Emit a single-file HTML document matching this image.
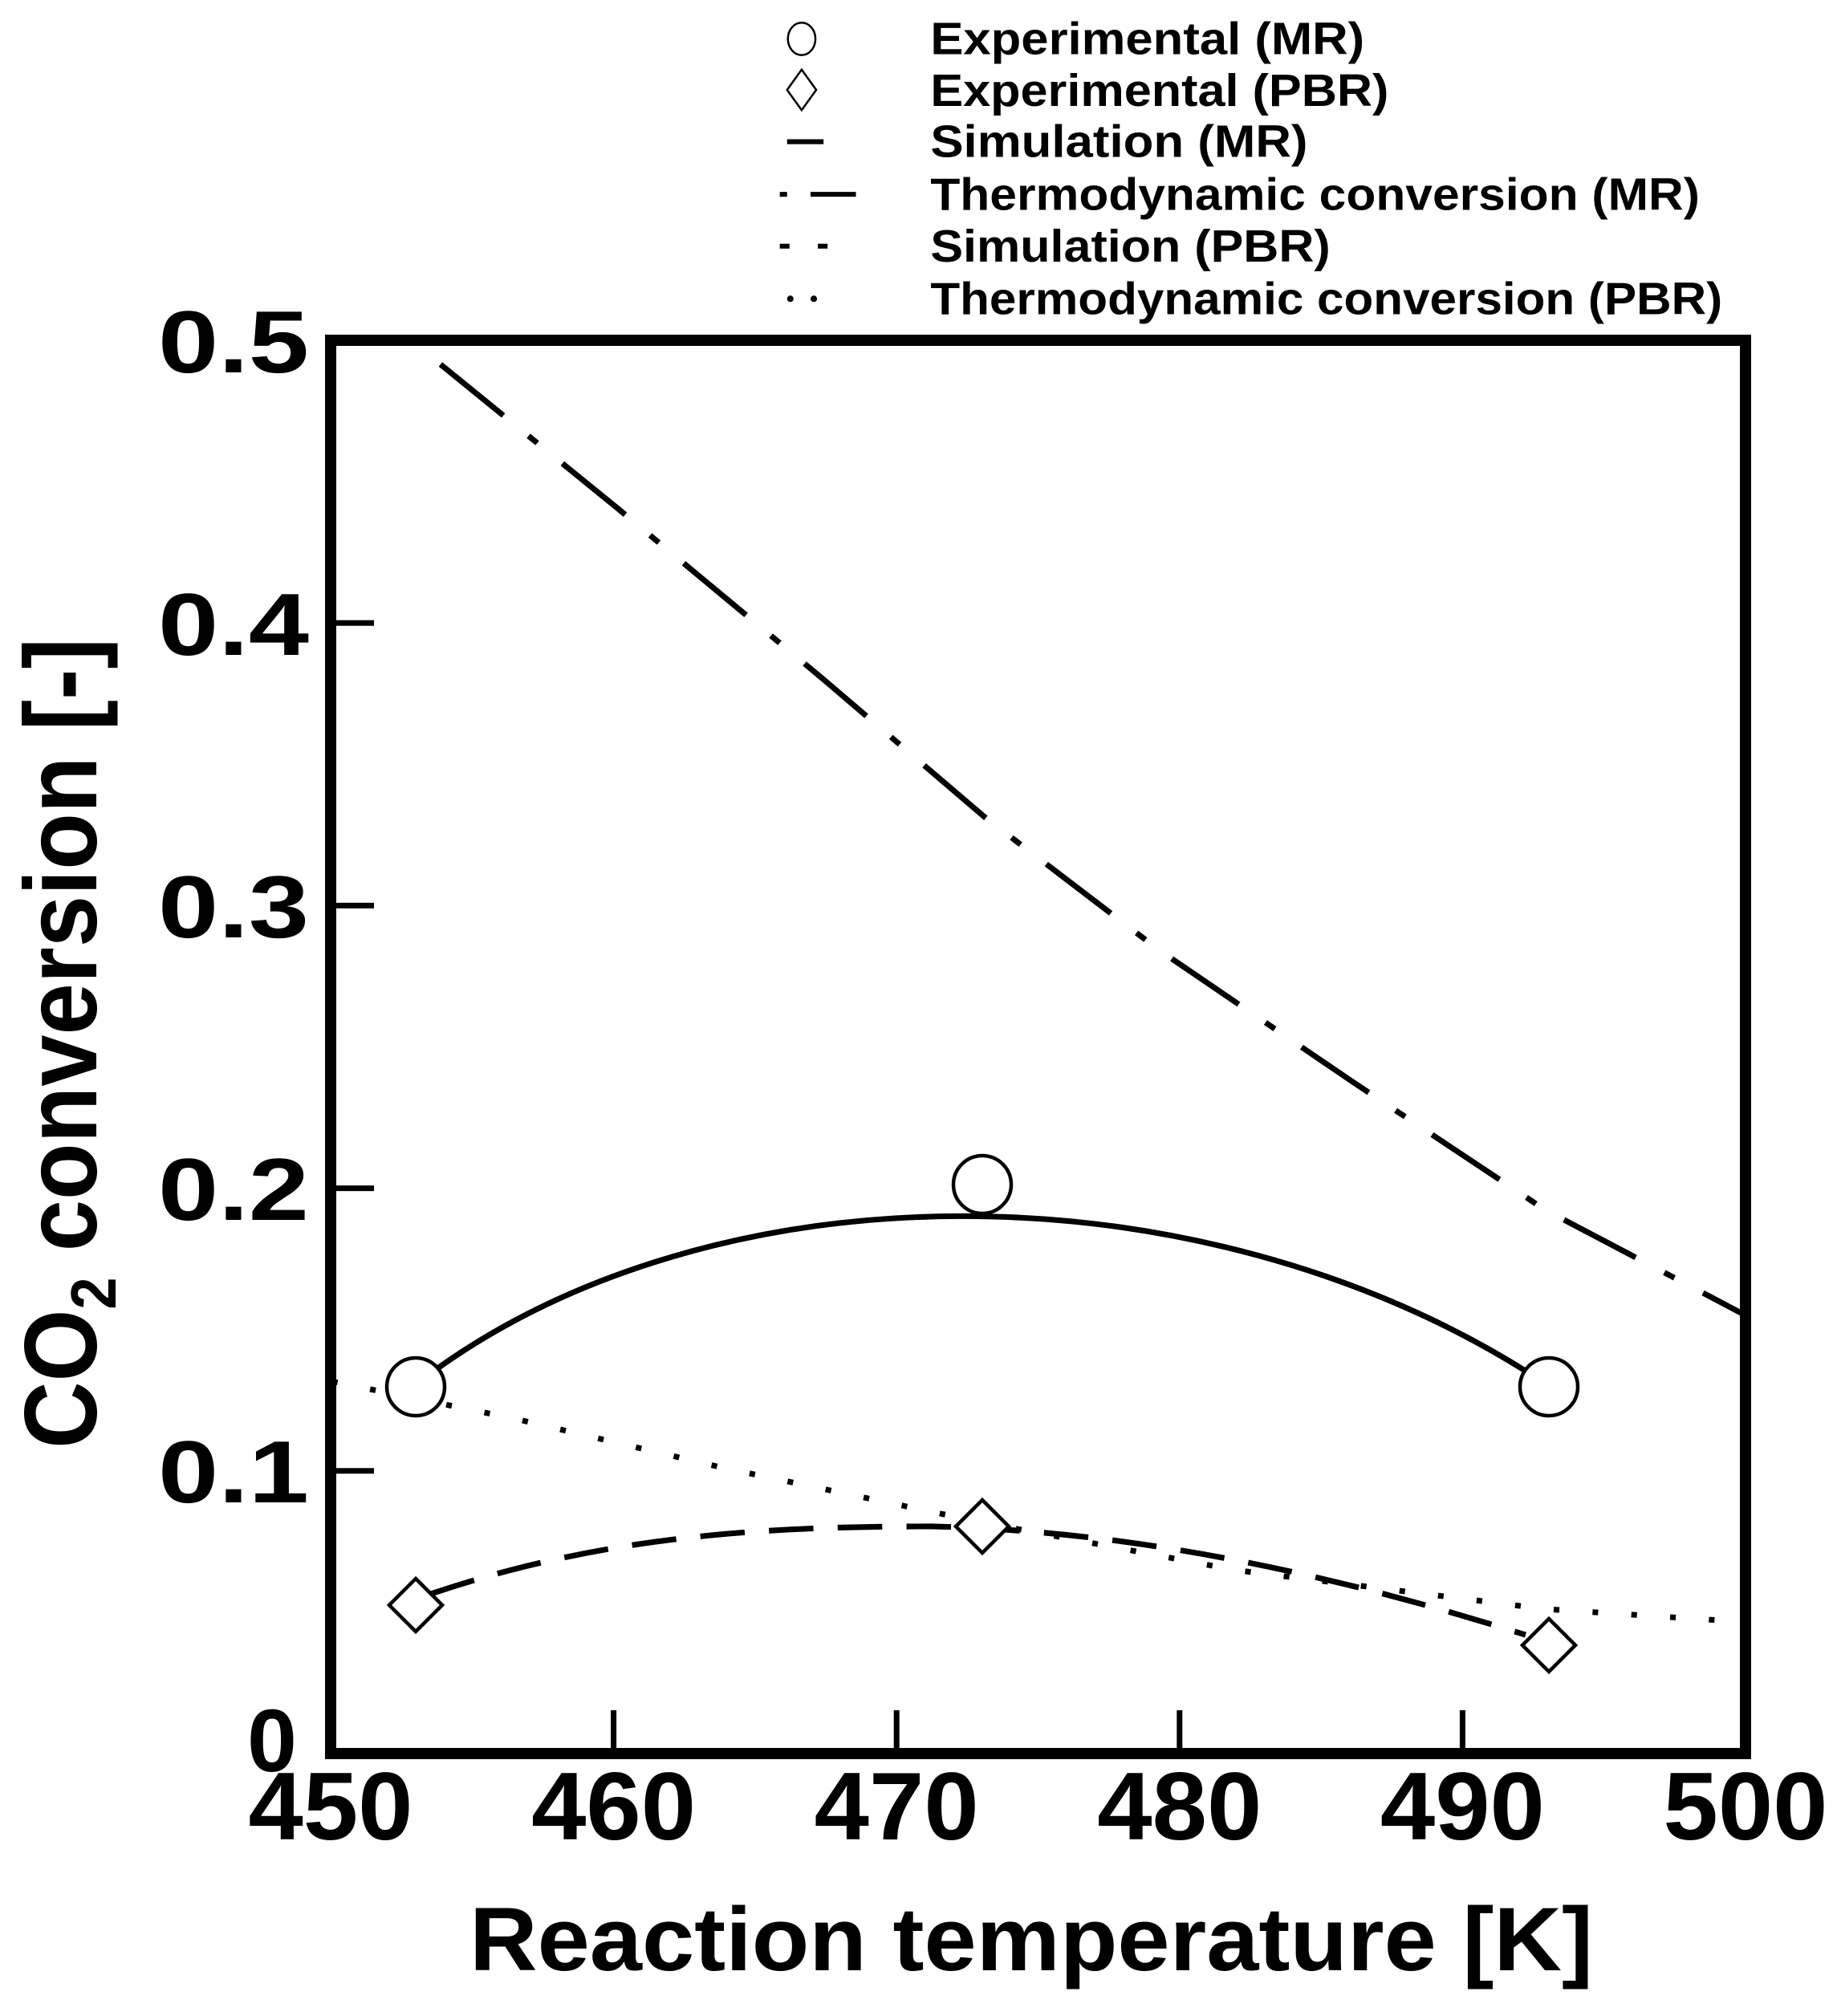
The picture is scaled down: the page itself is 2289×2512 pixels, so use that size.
<!DOCTYPE html>
<html><head><meta charset="utf-8"><style>html,body{margin:0;padding:0;background:#fff}svg{display:block}</style></head>
<body>
<svg width="2289" height="2512" viewBox="0 0 2289 2512" xmlns="http://www.w3.org/2000/svg" font-family="'Liberation Sans', 'DejaVu Sans', sans-serif">
<rect width="2289" height="2512" fill="#fff"/>
<g transform="scale(1.009)">
<!-- legend -->
<g font-size="56" font-weight="bold" fill="#000">
<text x="1149" y="67" textLength="536" lengthAdjust="spacingAndGlyphs">Experimental (MR)</text>
<text x="1149" y="131" textLength="566" lengthAdjust="spacingAndGlyphs">Experimental (PBR)</text>
<text x="1149" y="194" textLength="466" lengthAdjust="spacingAndGlyphs">Simulation (MR)</text>
<text x="1149" y="259" textLength="950" lengthAdjust="spacingAndGlyphs">Thermodynamic conversion (MR)</text>
<text x="1149" y="323" textLength="494" lengthAdjust="spacingAndGlyphs">Simulation (PBR)</text>
<text x="1149" y="388" textLength="978" lengthAdjust="spacingAndGlyphs">Thermodynamic conversion (PBR)</text>
</g>
<ellipse cx="990" cy="48" rx="17" ry="20" fill="none" stroke="#000" stroke-width="2.5"/>
<polygon points="990,86 1008,111 990,136 972,111" fill="none" stroke="#000" stroke-width="2.5"/>
<line x1="972" y1="175" x2="1017" y2="175" stroke="#000" stroke-width="6"/>
<line x1="963" y1="240" x2="972" y2="240" stroke="#000" stroke-width="6"/>
<line x1="1001" y1="240" x2="1057" y2="240" stroke="#000" stroke-width="6"/>
<line x1="963" y1="304" x2="975" y2="304" stroke="#000" stroke-width="6"/>
<line x1="1010" y1="304" x2="1022" y2="304" stroke="#000" stroke-width="6"/>
<circle cx="976" cy="369" r="4" fill="#000"/>
<circle cx="1005" cy="369" r="4" fill="#000"/>
<!-- series -->
<g fill="none" stroke="#000" stroke-linecap="butt" stroke-linejoin="round">
<path stroke-width="7" d="M525,1701 C880,1436 1480,1436 1892,1698"/>
<polyline stroke-width="7" stroke-dasharray="100,40,14,40" points="544,450 763,628 1017,839 1216,1009 1431,1173 1669,1335 1908,1494 2157,1625"/>
<polyline stroke-width="7" stroke-dasharray="7,41" points="410,1706 636,1752 890,1812 1208,1879 1526,1939 1908,1987 2155,2003"/>
<path stroke-width="7" stroke-dasharray="55,30" d="M533,1968 C750,1895 950,1885 1150,1885 C1400,1890 1650,1945 1884,2019"/>
</g>
</g>
<!-- axes box -->
<rect x="412" y="424" width="1763" height="1761" fill="none" stroke="#000" stroke-width="14"/>
<g stroke="#000" stroke-width="7">
<line x1="764.6" y1="2185" x2="764.6" y2="2131"/>
<line x1="1117.2" y1="2185" x2="1117.2" y2="2131"/>
<line x1="1469.8" y1="2185" x2="1469.8" y2="2131"/>
<line x1="1822.4" y1="2185" x2="1822.4" y2="2131"/>
<line x1="412" y1="1832.8" x2="466" y2="1832.8"/>
<line x1="412" y1="1480.6" x2="466" y2="1480.6"/>
<line x1="412" y1="1128.4" x2="466" y2="1128.4"/>
<line x1="412" y1="776.2" x2="466" y2="776.2"/>
</g>
<!-- markers -->
<g fill="#fff" stroke="#000" stroke-width="4.5">
<circle cx="518" cy="1728" r="36"/>
<circle cx="1224" cy="1476" r="36"/>
<circle cx="1930" cy="1728" r="36"/>
<polygon points="518,1967 551,2000 518,2033 485,2000"/>
<polygon points="1224,1869 1257,1902 1224,1935 1191,1902"/>
<polygon points="1930,2017 1963,2050 1930,2083 1897,2050"/>
</g>
<!-- y tick labels -->
<g font-size="110" font-weight="bold" text-anchor="end" fill="#000">
<text x="385" y="464" textLength="188" lengthAdjust="spacingAndGlyphs">0.5</text>
<text x="385" y="816" textLength="188" lengthAdjust="spacingAndGlyphs">0.4</text>
<text x="385" y="1168" textLength="188" lengthAdjust="spacingAndGlyphs">0.3</text>
<text x="385" y="1520" textLength="188" lengthAdjust="spacingAndGlyphs">0.2</text>
<text x="385" y="1872" textLength="188" lengthAdjust="spacingAndGlyphs">0.1</text>
<text x="370" y="2207" textLength="62" lengthAdjust="spacingAndGlyphs">0</text>
</g>
<!-- x tick labels -->
<g font-size="120" font-weight="bold" text-anchor="middle" fill="#000">
<text x="412" y="2292" textLength="205" lengthAdjust="spacingAndGlyphs">450</text>
<text x="764.6" y="2292" textLength="205" lengthAdjust="spacingAndGlyphs">460</text>
<text x="1117.2" y="2292" textLength="205" lengthAdjust="spacingAndGlyphs">470</text>
<text x="1469.8" y="2292" textLength="205" lengthAdjust="spacingAndGlyphs">480</text>
<text x="1822.4" y="2292" textLength="205" lengthAdjust="spacingAndGlyphs">490</text>
<text x="2175" y="2292" textLength="205" lengthAdjust="spacingAndGlyphs">500</text>
</g>
<!-- axis titles -->
<text x="1285" y="2455" font-size="112" font-weight="bold" text-anchor="middle" textLength="1400" lengthAdjust="spacingAndGlyphs">Reaction temperature [K]</text>
<text transform="translate(120,1300) rotate(-90)" font-size="128" font-weight="bold" text-anchor="middle" textLength="1010" lengthAdjust="spacingAndGlyphs">CO<tspan font-size="80" dy="24">2</tspan><tspan dy="-24"> conversion [-]</tspan></text>
</svg>
</body></html>
